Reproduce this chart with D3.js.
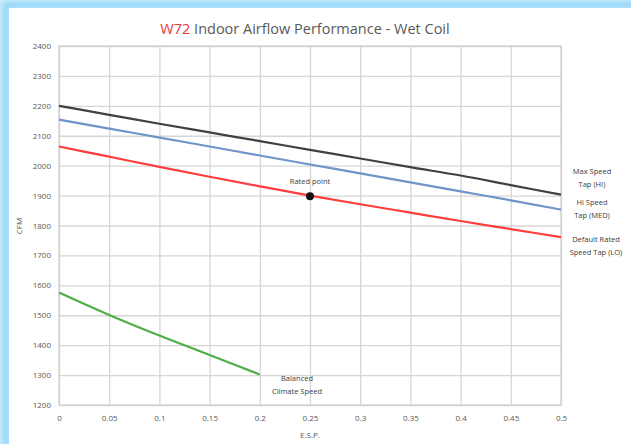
<!DOCTYPE html>
<html>
<head>
<meta charset="utf-8">
<script src="https://cdn.jsdelivr.net/npm/d3@7"></script>
<style>
    body { margin: 0; background: #fff; }
    text { font-family: "Open Sans", "Liberation Sans", sans-serif; }
</style>
</head>
<body>
<div id="canvas"></div>
<script>
// E.S.P. values shared by the speed taps
var espSteps = [0, 0.05, 0.1, 0.15, 0.2, 0.25, 0.3, 0.35, 0.4, 0.45, 0.5];
var maxSpeedCfm = [2200, 2170, 2140, 2111, 2082, 2053, 2024, 1995, 1967, 1935, 1903];
var hiSpeedCfm = [2154, 2124, 2094, 2064, 2034, 2004, 1974, 1944, 1914, 1884, 1853];
var defaultCfm = [2064, 2030, 1996, 1963, 1931, 1900, 1871, 1843, 1815, 1788, 1761];
var balancedEsp = [0, 0.05, 0.1, 0.15, 0.2];
var balancedCfm = [1576, 1501, 1432, 1367, 1302];
var ratedPoint = { esp: 0.25, cfm: 1898 };
var xTicks = [0, 0.05, 0.1, 0.15, 0.2, 0.25, 0.3, 0.35, 0.4, 0.45, 0.5];
var xTickLabels = ["0", "0.05", "0.1", "0.15", "0.2", "0.25", "0.3", "0.35", "0.4", "0.45", "0.5"];
var yTicks = [1200, 1300, 1400, 1500, 1600, 1700, 1800, 1900, 2000, 2100, 2200, 2300, 2400];

var Chart = (function() {
    var that = { svg : null, plot : null, x : null, y : null };
    that.init = function() {
        var w = 631;
        var h = 444;
        that.svg = d3.select("#canvas").append("svg").attr("width", w).attr("height", h);

        // blue frame glow
        var defs = that.svg.append("defs");
        defs.append("filter").attr("id", "glow")
            .append("feGaussianBlur").attr("stdDeviation", 2.5);
        that.svg.append("rect").attr("width", w).attr("height", h).style("fill", "#fff");
        that.svg.append("rect").attr("x", 0).attr("y", 0).attr("width", 9).attr("height", h)
            .style("fill", "#c4eafc");
        that.svg.append("rect").attr("x", 0).attr("y", 0).attr("width", w).attr("height", 8)
            .style("fill", "#c4eafc");
        that.svg.append("rect").attr("x", 6).attr("y", 5).attr("width", w + 20).attr("height", h + 20)
            .style("fill", "none").style("stroke", "#86d0f6").style("stroke-width", 4)
            .attr("filter", "url(#glow)");
        that.svg.append("rect").attr("x", 9).attr("y", 8).attr("width", w).attr("height", h)
            .style("fill", "#fff");

        that.x = d3.scaleLinear().domain([0, 0.5]).range([59, 561]);
        that.y = d3.scaleLinear().domain([1200, 2400]).range([405, 46]);
        that.plot = that.svg.append("g").attr("name", "plot");
    };
    that.drawAxes = function() {
        var x = that.x, y = that.y;
        var grid = that.plot.append("g").attr("name", "grid");

        // 세로 격자
        grid.append("g")
            .attr("transform", "translate(0," + y.range()[0] + ")")
            .call(d3.axisBottom(x).tickValues(xTicks).tickSize(-(y.range()[0] - y.range()[1])).tickFormat(""))
            .call(g => g.select(".domain").remove());
        // 가로 격자
        grid.append("g")
            .attr("transform", "translate(" + x.range()[0] + ",0)")
            .call(d3.axisLeft(y).tickValues(yTicks).tickSize(-(x.range()[1] - x.range()[0])).tickFormat(""))
            .call(g => g.select(".domain").remove());
        grid.selectAll("line").style("stroke", "#d6d6d6").style("stroke-width", 1.3);

        grid.append("rect")
            .attr("x", x.range()[0]).attr("y", y.range()[1])
            .attr("width", x.range()[1] - x.range()[0]).attr("height", y.range()[0] - y.range()[1])
            .style("fill", "none").style("stroke", "#d0d0d0").style("stroke-width", 1.3);

        // tick labels
        var xAxis = that.plot.append("g")
            .attr("transform", "translate(0," + (y.range()[0] + 6) + ")")
            .call(d3.axisBottom(x).tickValues(xTicks).tickSize(0).tickFormat((d, i) => xTickLabels[i]));
        var yAxis = that.plot.append("g")
            .attr("transform", "translate(" + (x.range()[0] - 8) + ",0)")
            .call(d3.axisLeft(y).tickValues(yTicks).tickSize(0).tickFormat(d3.format("d")));
        [xAxis, yAxis].forEach(function(a) {
            a.select(".domain").remove();
            a.selectAll("text").style("font-size", "8px").style("fill", "#595959")
                .style("font-family", "'Open Sans', sans-serif");
        });
        xAxis.selectAll("text").attr("dy", "0.9em");
        yAxis.selectAll("text").attr("x", 0);

        that.svg.append("text")
            .attr("x", 310).attr("y", 438).attr("text-anchor", "middle")
            .style("font-size", "8px").style("fill", "#595959").text("E.S.P.");
        that.svg.append("text")
            .attr("transform", "translate(22,226) rotate(-90)").attr("text-anchor", "middle")
            .style("font-size", "8px").style("fill", "#595959").text("CFM");

        // title
        var title = that.svg.append("text")
            .attr("x", 305).attr("y", 34).attr("text-anchor", "middle")
            .style("font-size", "14.5px").style("fill", "#595959");
        title.append("tspan").style("fill", "#e8383d").text("W72");
        title.append("tspan").text(" Indoor Airflow Performance - Wet Coil");
    };
    that.addLines = function() {
        var line = d3.line().x(d => that.x(d[0])).y(d => that.y(d[1])).curve(d3.curveMonotoneX);
        var series = [
            { esp: espSteps, cfm: maxSpeedCfm, color: "#404040" },
            { esp: espSteps, cfm: hiSpeedCfm, color: "#6f94c9" },
            { esp: espSteps, cfm: defaultCfm, color: "#ff3d3d" },
            { esp: balancedEsp, cfm: balancedCfm, color: "#4eae48" }
        ];
        var g = that.plot.append("g").attr("name", "lines");
        series.forEach(function(s) {
            g.append("path")
                .attr("d", line(d3.zip(s.esp, s.cfm)))
                .style("fill", "none")
                .style("stroke", s.color)
                .style("stroke-width", 2.2);
        });

        g.append("circle")
            .attr("cx", that.x(ratedPoint.esp)).attr("cy", that.y(ratedPoint.cfm)).attr("r", 4)
            .style("fill", "#111");
    };
    that.addLabels = function() {
        var labels = [
            { lines: ["Max Speed", "Tap (HI)"], x: 592, y: 174 },
            { lines: ["Hi Speed", "Tap (MED)"], x: 592, y: 205 },
            { lines: ["Default Rated", "Speed Tap (LO)"], x: 596, y: 242 },
            { lines: ["Balanced", "Climate Speed"], x: 297, y: 381 },
            { lines: ["Rated point"], x: 310, y: 184 }
        ];
        labels.forEach(function(l) {
            var t = that.svg.append("text").attr("text-anchor", "middle")
                .style("font-size", "7.5px").style("fill", "#404040");
            l.lines.forEach(function(s, i) {
                t.append("tspan").attr("x", l.x).attr("y", l.y + i * 12.5).text(s);
            });
        });
    };
    return that;
})();

Chart.init();
Chart.drawAxes();
Chart.addLines();
Chart.addLabels();
</script>
</body>
</html>
